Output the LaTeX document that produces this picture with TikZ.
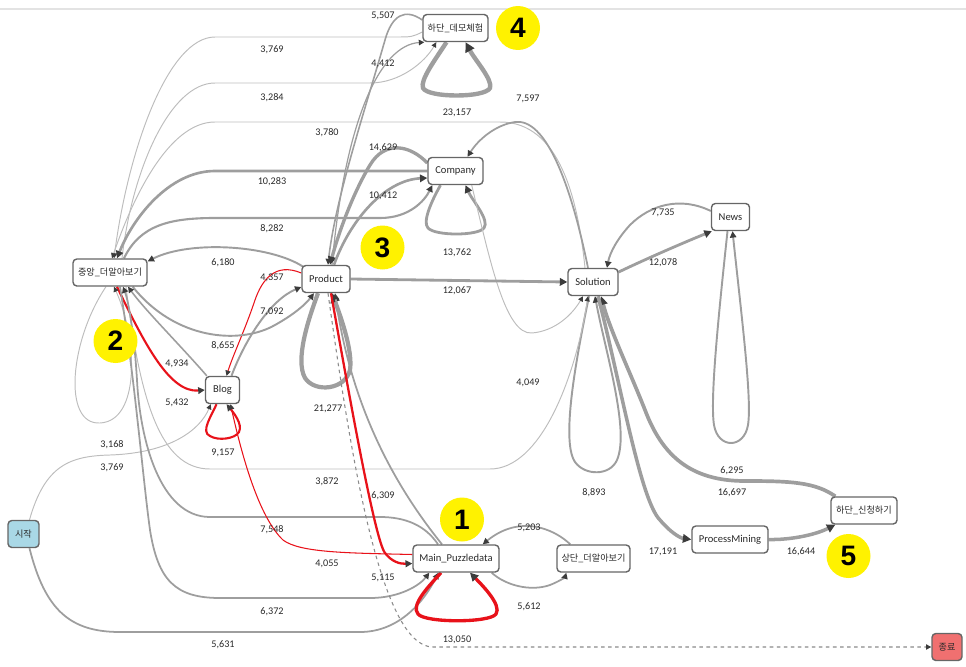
\documentclass[tikz,border=0pt]{standalone}
\usepackage{fontspec}
\setmainfont{Carlito}
\newfontfamily\kr{Noto Sans CJK KR}
\newfontfamily\numfont{Liberation Sans}
\usetikzlibrary{arrows.meta,calc,backgrounds}

\definecolor{flowgray}{HTML}{9E9E9E}
\definecolor{faintgray}{HTML}{BDBDBD}
\definecolor{dashgray}{HTML}{8A8A8A}
\definecolor{tipgray}{HTML}{3C3C3C}
\definecolor{hotred}{HTML}{E8121A}
\definecolor{boxline}{HTML}{666666}
\definecolor{labeltext}{HTML}{2A2A2A}
\definecolor{startblue}{HTML}{A9D8E6}
\definecolor{endred}{HTML}{F07070}
\definecolor{rulegray}{HTML}{E3E3E3}

\tikzset{
  box/.style={draw=boxline, fill=white, rounded corners=2.2pt, line width=0.8pt,
    minimum height=0.54cm, inner sep=1pt, text=labeltext, font=\fontsize{6}{7}\selectfont},
  krbox/.style={box, font=\kr\fontsize{5.2}{6}\selectfont},
  badge/.style={circle, fill=yellow, minimum size=0.88cm, inner sep=0pt,
    font=\numfont\bfseries\fontsize{16}{16}\selectfont},
  cnt/.style={font=\fontsize{5.8}{6}\selectfont, text=labeltext, inner sep=0pt},
  flow/.style={draw=flowgray, line width=#1,
    -{Triangle[length=2.2pt 1.3, width=2.2pt 1.3, color=tipgray]}},
  flow/.default=1pt,
  faint/.style={flow=0.55pt, draw=faintgray},
  hot/.style={flow=#1, draw=hotred},
  hot/.default=1.2pt,
}

\begin{document}
\begin{tikzpicture}[x=0.02cm, y=-0.02cm]
    \useasboundingbox (0,0) rectangle (966,666);
    \draw[rulegray, line width=0.6pt] (0,9) -- (966,9);

    % Activities
    \node[krbox, minimum width=1.30cm] (demo) at (455.5,28) {하단\_데모체험};
    \node[box, minimum width=1.10cm] (comp) at (455.5,171) {Company};
    \node[box, minimum width=0.76cm] (news) at (730.5,217) {News};
    \node[krbox, minimum width=1.48cm] (cen) at (110,272.5) {중앙\_더알아보기};
    \node[box, minimum width=0.96cm] (prod) at (326,279) {Product};
    \node[box, minimum width=1.00cm] (sol) at (593,282) {Solution};
    \node[box, minimum width=0.68cm] (blog) at (222.5,390) {Blog};
    \node[krbox, minimum width=0.62cm, fill=startblue] (start) at (23.5,534) {시작};
    \node[box, minimum width=1.72cm] (main) at (456,558.5) {Main\_Puzzledata};
    \node[krbox, minimum width=1.46cm] (top) at (593.5,558.5) {상단\_더알아보기};
    \node[box, minimum width=1.52cm] (pm) at (730,539.5) {ProcessMining};
    \node[krbox, minimum width=1.32cm] (apply) at (864,510.5) {하단\_신청하기};
    \node[krbox, minimum width=0.60cm, fill=endred] (end) at (947,647) {종료};

    \begin{scope}[on background layer]
    % Upper fan into 중앙
    \draw[faint] ($(demo.west)+(0,4)$) .. controls (412,37) .. (395,37) -- (215,37)
        .. controls (168,37) and (128,150) .. ($(cen.north)+(4,0)$);
    \draw[faint] ($(cen.north)+(12,0)$) .. controls (132,170) and (170,83) .. (215,83) -- (370,83)
        .. controls (400,83) and (425,62) .. ($(demo.south west)+(14,0)$);
    \draw[faint] ($(sol.north)+(-8,0)$) .. controls (578,200) and (560,122) .. (500,122) -- (215,122)
        .. controls (168,122) and (132,200) .. ($(cen.north)+(2,0)$);
    \draw[flow=1.5pt] (comp.west) -- (215,171) .. controls (168,171) and (132,220) .. ($(cen.north)+(7,0)$);
    \draw[flow=1.2pt] ($(cen.north)+(14,0)$) .. controls (140,225) and (170,218) .. (215,218) -- (380,218)
        .. controls (410,218) and (425,200) .. ($(comp.south west)+(5,0)$);

    % Product and 하단_데모체험
    \draw[flow=0.7pt] ($(prod.north)+(6,0)$) .. controls (345,120) and (380,45) .. ($(demo.south west)+(2,0)$);
    \draw[flow=0.9pt] ($(demo.west)+(0,-8)$) .. controls (405,8) and (392,15) .. (385,40)
        .. controls (365,110) and (335,200) .. ($(prod.north)+(2,0)$);
    \draw[flow=2.5pt] ($(demo.south)+(-9,0)$) .. controls (435,60) and (420,80) .. (423,88)
        .. controls (428,98) and (485,98) .. (490,88) .. controls (493,80) and (475,60) .. ($(demo.south)+(10,0)$);

    % Company
    \draw[flow=1pt] ($(sol.north)+(-5,0)$) .. controls (570,180) and (545,118) .. (515,122)
        .. controls (495,125) and (478,140) .. ($(comp.north)+(12,0)$);
    \draw[flow=1.9pt] ($(comp.west)+(0,-8)$) .. controls (410,145) and (385,140) .. (370,165)
        .. controls (352,195) and (338,235) .. ($(prod.north)+(4,0)$);
    \draw[flow=1.5pt] ($(prod.north)+(8,0)$) .. controls (350,220) and (385,180) .. ($(comp.west)+(0,7)$);
    \draw[flow=1.6pt] ($(comp.south)+(-15,0)$) .. controls (432,200) and (422,222) .. (428,228)
        .. controls (435,236) and (478,236) .. (484,228) .. controls (490,220) and (472,200) .. ($(comp.south)+(10,0)$);
    \draw[faint] ($(comp.south east)+(-12,0)$) .. controls (490,260) and (505,335) .. (532,333)
        .. controls (555,331) and (572,315) .. ($(sol.south)+(-10,0)$);

    % News and Solution
    \draw[flow=1.1pt] ($(news.west)+(0,-6)$) .. controls (680,196) and (650,205) .. (630,225)
        .. controls (618,238) and (610,252) .. ($(sol.north)+(14,0)$);
    \draw[flow=1.6pt] ($(sol.east)+(0,-10)$) .. controls (650,257) and (690,240) .. ($(news.south west)+(1,0)$);
    \draw[flow=1.1pt] ($(news.south)+(-3,0)$) .. controls (718,320) and (710,400) .. (714,425)
        .. controls (718,449) and (744,449) .. (748,425) .. controls (752,400) and (742,320) .. ($(news.south)+(2,0)$);
    \draw[flow=1.6pt] (prod.east) -- (sol.west);
    \draw[flow=1.1pt] ($(sol.south)+(-4,0)$) .. controls (578,350) and (560,440) .. (575,462)
        .. controls (585,476) and (610,476) .. (617,460) .. controls (630,430) and (605,350) .. ($(sol.south)+(2,0)$);
    \draw[flow=2.1pt] ($(apply.north west)+(5,0)$) .. controls (815,482) and (790,481) .. (745,481)
        .. controls (690,481) and (662,455) .. (645,410) .. controls (630,372) and (610,330) .. ($(sol.south)+(8,0)$);
    \draw[flow=2pt] ($(sol.south)+(5,0)$) .. controls (620,380) and (640,500) .. (660,520)
        .. controls (670,532) and (680,538) .. (pm.west);
    \draw[flow=2pt] (pm.east) .. controls (790,540) and (815,535) .. ($(apply.south west)+(5,0)$);

    % Product, 중앙 and Blog
    \draw[flow=1.1pt] ($(prod.north west)+(2,2)$) .. controls (270,245) and (190,240) .. ($(cen.north east)+(0,3)$);
    \draw[hot=0.6pt] ($(prod.west)+(0,-6)$) .. controls (275,262) and (262,280) .. (255,300)
        .. controls (245,330) and (233,355) .. ($(blog.north)+(4,0)$);
    \draw[flow=1.1pt] ($(blog.north)+(9,0)$) .. controls (245,340) and (270,300) .. ($(prod.west)+(0,8)$);
    \draw[flow=1.1pt] ($(cen.south east)+(-15,0)$) .. controls (175,340) and (240,345) .. (275,325)
        .. controls (293,315) and (305,305) .. ($(prod.south)+(-12,0)$);
    \draw[hot=1.2pt] ($(cen.south)+(7,0)$) .. controls (145,345) and (170,393) .. (blog.west);
    \draw[flow=0.9pt] ($(blog.north west)+(2,0)$) .. controls (180,345) and (145,310) .. ($(cen.south)+(18,0)$);
    \draw[flow=2.4pt] ($(prod.south)+(-8,0)$) .. controls (308,320) and (295,360) .. (305,378)
        .. controls (315,393) and (345,390) .. (350,370) .. controls (353,350) and (340,315) .. ($(prod.south)+(6,0)$);
    \draw[faint] ($(cen.south)+(-4,0)$) .. controls (70,340) and (62,425) .. (100,423)
        .. controls (140,421) and (138,340) .. ($(cen.south)+(4,0)$);
    \draw[faint] ($(start.north)+(6,0)$) .. controls (45,465) and (70,456) .. (110,455)
        .. controls (170,453) and (200,430) .. ($(blog.south west)+(6,0)$);
    \draw[hot=1.2pt] ($(blog.south)+(-6,0)$) .. controls (212,415) and (200,432) .. (210,436)
        .. controls (218,441) and (235,439) .. (239,432) .. controls (243,424) and (233,412) .. ($(blog.south)+(4,0)$);

    % Lower fan round Main_Puzzledata
    \draw[faint] ($(cen.south)+(16,0)$) .. controls (140,400) and (160,469) .. (210,469) -- (490,469)
        .. controls (540,469) and (575,380) .. ($(sol.south)+(-5,0)$);
    \draw[flow=1pt] ($(main.north)+(-18,0)$) .. controls (425,525) and (405,517) .. (380,517) -- (210,517)
        .. controls (160,517) and (140,440) .. (137,380) .. controls (134,330) and (128,300) .. ($(cen.south)+(13,0)$);
    \draw[hot=0.6pt] ($(main.west)+(0,-4)$) .. controls (350,553) and (300,553) .. (283,540)
        .. controls (262,520) and (245,470) .. ($(blog.south)+(8,0)$);
    \draw[flow=1pt] ($(cen.south)+(10,0)$) .. controls (135,380) and (143,480) .. (150,530)
        .. controls (158,580) and (175,598) .. (220,598) -- (370,598)
        .. controls (400,598) and (420,585) .. ($(main.south west)+(17,0)$);
    \draw[flow=1pt] ($(start.south)+(6,0)$) .. controls (45,610) and (70,632) .. (120,632) -- (360,632)
        .. controls (400,632) and (425,600) .. ($(main.south west)+(26,0)$);
    \draw[hot=1.3pt] ($(prod.south)+(5,0)$) .. controls (350,400) and (375,540) .. (385,553)
        .. controls (392,562) and (400,564) .. ($(main.west)+(0,5)$);
    \draw[flow=1pt] ($(main.north)+(-14,0)$) .. controls (390,480) and (350,400) .. ($(prod.south)+(9,0)$);
    \draw[hot=1.9pt] ($(main.south)+(-15,0)$) .. controls (430,585) and (410,605) .. (418,614)
        .. controls (425,623) and (490,623) .. (496,614) .. controls (502,605) and (482,585) .. ($(main.south)+(14,0)$);
    \draw[flow=1pt] ($(top.north west)+(14,0)$) .. controls (555,530) and (530,520) .. (505,530)
        .. controls (495,534) and (488,540) .. ($(main.north east)+(-17,0)$);
    \draw[flow=1pt] ($(main.south east)+(-8,0)$) .. controls (505,585) and (530,592) .. (550,585)
        .. controls (560,581) and (565,577) .. ($(top.south west)+(10,0)$);
    \draw[flow=0.6pt, draw=dashgray, dash pattern=on 2pt off 2pt] ($(prod.south)+(2,0)$)
        .. controls (350,450) and (380,647) .. (433,647) -- (end.west);
    \end{scope}

    % Counts
    \node[cnt] at (272,50) {3,769};
    \node[cnt] at (272,98) {3,284};
    \node[cnt] at (327,133) {3,780};
    \node[cnt] at (272,182) {10,283};
    \node[cnt] at (272,229) {8,282};
    \node[cnt] at (383,16) {5,507};
    \node[cnt] at (383,64) {4,412};
    \node[cnt] at (457,113) {23,157};
    \node[cnt] at (528,99) {7,597};
    \node[cnt] at (383,148) {14,629};
    \node[cnt] at (383,196) {10,412};
    \node[cnt] at (457,253) {13,762};
    \node[cnt] at (663,213) {7,735};
    \node[cnt] at (663,263) {12,078};
    \node[cnt] at (223,263) {6,180};
    \node[cnt] at (272,278) {4,357};
    \node[cnt] at (272,312) {7,092};
    \node[cnt] at (223,346) {8,655};
    \node[cnt] at (177,364) {4,934};
    \node[cnt] at (177,403) {5,432};
    \node[cnt] at (457,291) {12,067};
    \node[cnt] at (328,409) {21,277};
    \node[cnt] at (528,383) {4,049};
    \node[cnt] at (112,445) {3,168};
    \node[cnt] at (112,468) {3,769};
    \node[cnt] at (223,453) {9,157};
    \node[cnt] at (327,482) {3,872};
    \node[cnt] at (383,496) {6,309};
    \node[cnt] at (594,493) {8,893};
    \node[cnt] at (529,528) {5,203};
    \node[cnt] at (272,530) {7,548};
    \node[cnt] at (327,564) {4,055};
    \node[cnt] at (383,578) {5,115};
    \node[cnt] at (529,607) {5,612};
    \node[cnt] at (272,612) {6,372};
    \node[cnt] at (457,640) {13,050};
    \node[cnt] at (223,645) {5,631};
    \node[cnt] at (732,471) {6,295};
    \node[cnt] at (732,493) {16,697};
    \node[cnt] at (663,552) {17,191};
    \node[cnt] at (801,552) {16,644};

    % Markers
    \node[badge] (b1) at (462,519.5) {1};
    \node[badge] (b2) at (115.5,341) {2};
    \node[badge] (b3) at (382.5,247.5) {3};
    \node[badge] (b4) at (518,28) {4};
    \node[badge] (b5) at (848.5,556) {5};
\end{tikzpicture}
\end{document}
